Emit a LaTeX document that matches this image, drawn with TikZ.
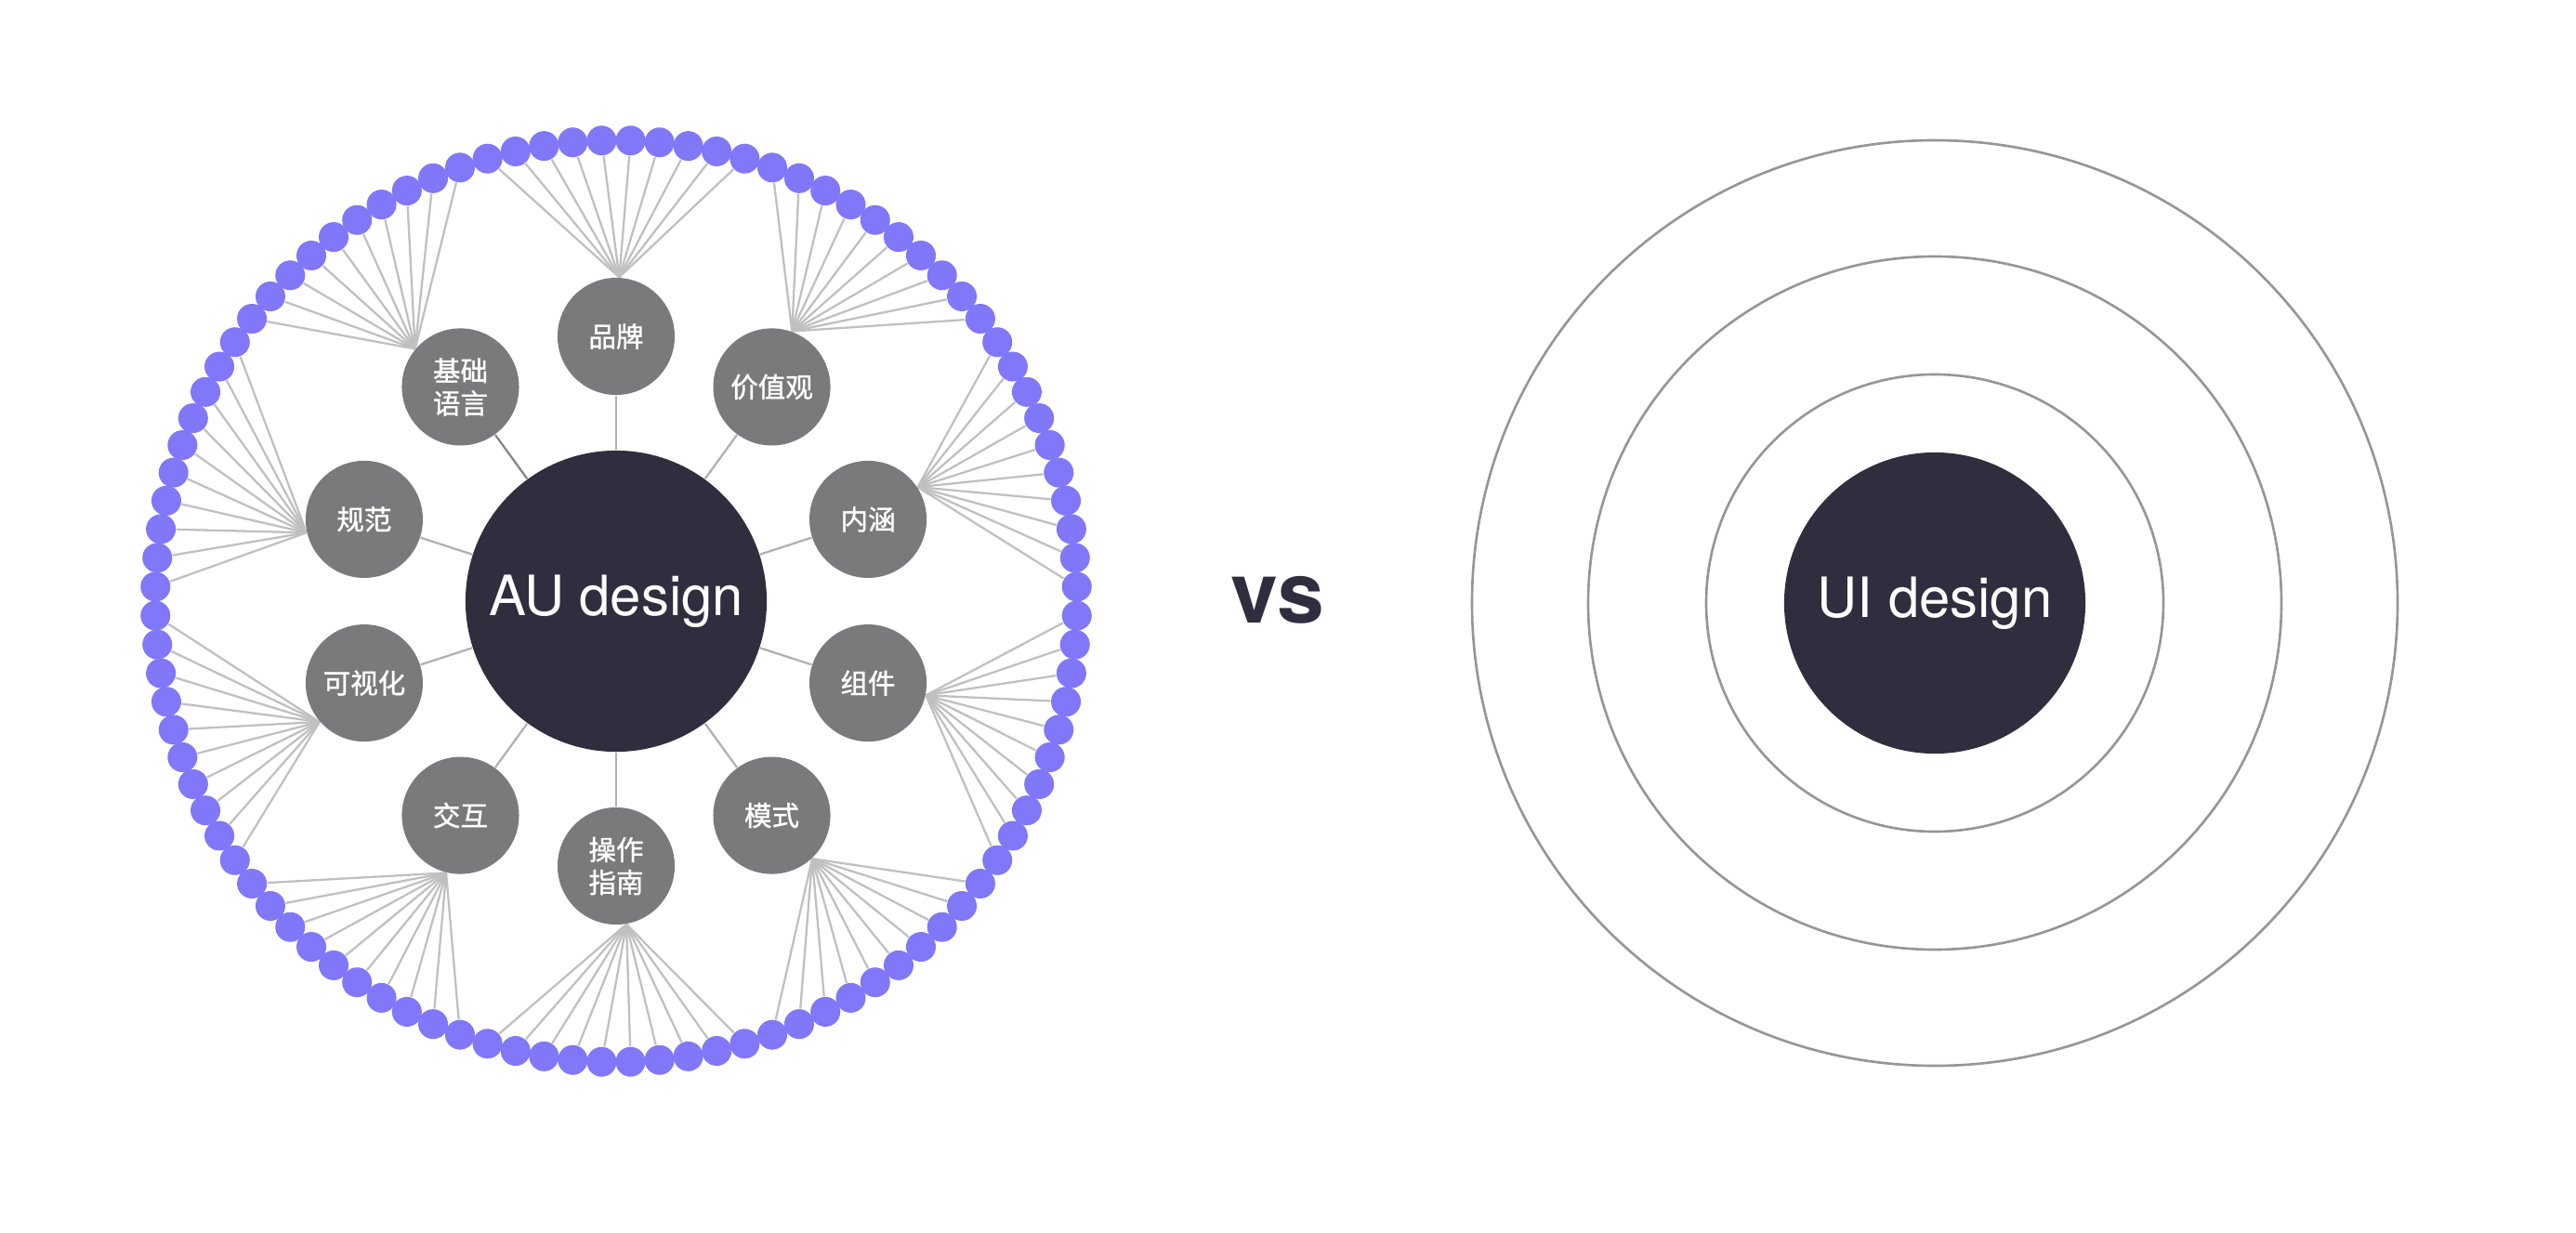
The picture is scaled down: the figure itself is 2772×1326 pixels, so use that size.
\documentclass[tikz,border=0pt]{standalone}
\usepackage{fontspec}
\setmainfont{TeX Gyre Heros}
\newfontfamily\cjk[FakeBold=1.2]{Noto Sans CJK SC}
\usetikzlibrary{calc}
\pgfdeclarelayer{bg}
\pgfsetlayers{bg,main}
\definecolor{ink}{RGB}{47,46,63}
\definecolor{beadc}{RGB}{128,119,249}
\definecolor{topicc}{RGB}{122,122,124}
\definecolor{spokec}{RGB}{192,192,192}
\definecolor{ringc}{RGB}{150,150,150}
\begin{document}
\begin{tikzpicture}[x=0.01cm, y=0.01cm,
            core/.style={circle, fill=ink, text=white, minimum size=3.24cm, inner sep=0pt, font=\fontsize{17}{20}\selectfont},
            topic/.style={circle, fill=topicc, text=white, minimum size=1.26cm, inner sep=0pt, align=center, font=\cjk\fontsize{8.4}{10}\selectfont},
            bead/.style={circle, fill=beadc, minimum size=0.32cm, inner sep=0pt},
            spoke/.style={draw=spokec, line width=0.65pt},
            ringline/.style={draw=ringc, line width=0.75pt}]
            \useasboundingbox (0,0) rectangle (2772,1326);

            \coordinate (c) at (663,679);
            \node[core] (au) at (c) {AU design};
            \foreach \ang/\hub/\lab [count=\j from 0] in {90/87/品牌, 54/70/价值观, 18/33/内涵, -18/348/组件, -54/313/模式, -90/280/{操作\\指南}, -126/256/交互, -162/221/可视化, 162/193/规范, 126/140/{基础\\语言}} {
                \node[topic] (t\j) at ($(c)+(\ang:285)$) {\lab};
                \foreach \m in {0,...,9}
                    \node[bead] (d\j-\m) at ($(c)+({\ang-16.2+3.6*\m}:496)$) {};
                \begin{pgfonlayer}{bg}
                    \foreach \m in {0,...,9}
                        \draw[spoke] (t\j.\hub) -- (d\j-\m);
                \end{pgfonlayer}
            }
            \begin{pgfonlayer}{bg}
                \foreach \j in {0,...,8}
                    \draw[spoke, draw=spokec!92!black] (au) -- (t\j);
                \draw[spoke, draw=spokec!70!black] (au) -- (t9);
            \end{pgfonlayer}

            \node[text=ink, font=\bfseries\fontsize{26}{26}\selectfont] (vs) at (1375,680.5) {vs};

            \coordinate (u) at (2082,677);
            \node[core] (ui) at (u) {UI design};
            \foreach \r in {246,373,498}
                \draw[ringline] (u) circle (\r);
        \end{tikzpicture}
\end{document}
